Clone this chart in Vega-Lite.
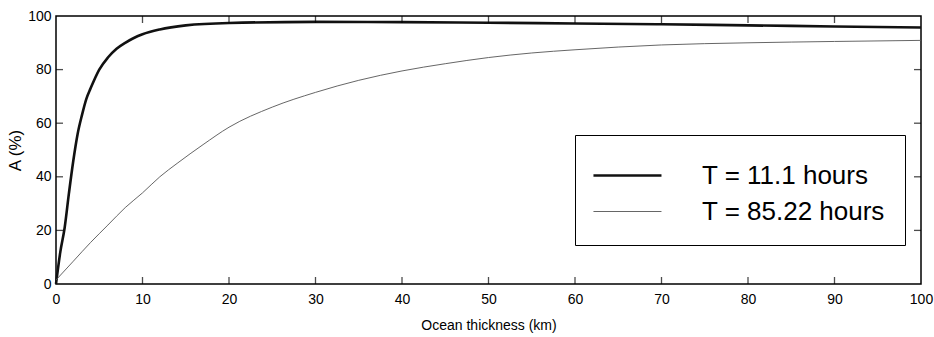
{
  "$schema": "https://vega.github.io/schema/vega-lite/v6.json",
  "width": 865,
  "height": 268,
  "autosize": {"type": "none"},
  "padding": {"left": 56, "top": 16, "right": 13, "bottom": 53},
  "background": "white",
  "config": {
    "view": {"stroke": "black", "strokeWidth": 1.5},
    "axis": {
      "domain": false,
      "ticks": false,
      "grid": false,
      "labelFlush": false,
      "labelColor": "black",
      "labelFont": "Liberation Sans",
      "labelFontSize": 14,
      "titleColor": "black",
      "titleFont": "Liberation Sans",
      "titleFontSize": 14,
      "titleFontWeight": "normal"
    }
  },
  "datasets": {
    "curves": [
      {"x": 0, "A": 0, "series": "T = 11.1 hours"},
      {"x": 0.5, "A": 12, "series": "T = 11.1 hours"},
      {"x": 1, "A": 21, "series": "T = 11.1 hours"},
      {"x": 1.5, "A": 34, "series": "T = 11.1 hours"},
      {"x": 2, "A": 46, "series": "T = 11.1 hours"},
      {"x": 2.5, "A": 56, "series": "T = 11.1 hours"},
      {"x": 3, "A": 63, "series": "T = 11.1 hours"},
      {"x": 3.5, "A": 69, "series": "T = 11.1 hours"},
      {"x": 4, "A": 73, "series": "T = 11.1 hours"},
      {"x": 5, "A": 80, "series": "T = 11.1 hours"},
      {"x": 6, "A": 84.5, "series": "T = 11.1 hours"},
      {"x": 7, "A": 87.8, "series": "T = 11.1 hours"},
      {"x": 8, "A": 90, "series": "T = 11.1 hours"},
      {"x": 9, "A": 91.8, "series": "T = 11.1 hours"},
      {"x": 10, "A": 93.2, "series": "T = 11.1 hours"},
      {"x": 12, "A": 95, "series": "T = 11.1 hours"},
      {"x": 15, "A": 96.5, "series": "T = 11.1 hours"},
      {"x": 20, "A": 97.4, "series": "T = 11.1 hours"},
      {"x": 30, "A": 97.8, "series": "T = 11.1 hours"},
      {"x": 40, "A": 97.7, "series": "T = 11.1 hours"},
      {"x": 50, "A": 97.5, "series": "T = 11.1 hours"},
      {"x": 60, "A": 97.2, "series": "T = 11.1 hours"},
      {"x": 70, "A": 96.9, "series": "T = 11.1 hours"},
      {"x": 80, "A": 96.5, "series": "T = 11.1 hours"},
      {"x": 90, "A": 96.1, "series": "T = 11.1 hours"},
      {"x": 100, "A": 95.7, "series": "T = 11.1 hours"},
      {"x": 0, "A": 1.5, "series": "T = 85.22 hours"},
      {"x": 2, "A": 8.5, "series": "T = 85.22 hours"},
      {"x": 4, "A": 15.5, "series": "T = 85.22 hours"},
      {"x": 6, "A": 22, "series": "T = 85.22 hours"},
      {"x": 8, "A": 28.5, "series": "T = 85.22 hours"},
      {"x": 10, "A": 34, "series": "T = 85.22 hours"},
      {"x": 12, "A": 40, "series": "T = 85.22 hours"},
      {"x": 14, "A": 45, "series": "T = 85.22 hours"},
      {"x": 17, "A": 52, "series": "T = 85.22 hours"},
      {"x": 20, "A": 58.5, "series": "T = 85.22 hours"},
      {"x": 25, "A": 66, "series": "T = 85.22 hours"},
      {"x": 30, "A": 71.5, "series": "T = 85.22 hours"},
      {"x": 35, "A": 76, "series": "T = 85.22 hours"},
      {"x": 40, "A": 79.5, "series": "T = 85.22 hours"},
      {"x": 45, "A": 82.2, "series": "T = 85.22 hours"},
      {"x": 50, "A": 84.5, "series": "T = 85.22 hours"},
      {"x": 55, "A": 86.2, "series": "T = 85.22 hours"},
      {"x": 60, "A": 87.4, "series": "T = 85.22 hours"},
      {"x": 70, "A": 89.2, "series": "T = 85.22 hours"},
      {"x": 80, "A": 90, "series": "T = 85.22 hours"},
      {"x": 90, "A": 90.5, "series": "T = 85.22 hours"},
      {"x": 100, "A": 90.9, "series": "T = 85.22 hours"}
    ],
    "xticks": [{"v": 10}, {"v": 20}, {"v": 30}, {"v": 40}, {"v": 50}, {"v": 60}, {"v": 70}, {"v": 80}, {"v": 90}],
    "yticks": [{"v": 20}, {"v": 40}, {"v": 60}, {"v": 80}]
  },
  "layer": [
    {
      "data": {"name": "curves"},
      "mark": {"type": "line", "interpolate": "monotone"},
      "encoding": {
        "x": {"field": "x", "type": "quantitative", "scale": {"domain": [0, 100], "nice": false},
              "axis": {"title": "Ocean thickness (km)", "values": [0,10,20,30,40,50,60,70,80,90,100], "labelPadding": 8, "titlePadding": 12}},
        "y": {"field": "A", "type": "quantitative", "scale": {"domain": [0, 100], "nice": false},
              "axis": {"title": "A (%)", "titleFontSize": 17, "values": [0,20,40,60,80,100], "labelPadding": 5, "titlePadding": 3}},
        "color": {"field": "series", "type": "nominal",
                  "scale": {"domain": ["T = 11.1 hours", "T = 85.22 hours"], "range": ["#111111", "#555555"]},
                  "legend": {
                    "title": null, "orient": "none", "legendX": 519, "legendY": 119,
                    "strokeColor": "black", "fillColor": "white", "padding": 20,
                    "symbolType": "M-1.16,0H2.42", "symbolSize": 1444,
                    "labelFont": "Liberation Sans", "labelFontSize": 26, "labelColor": "black",
                    "labelLimit": 400, "labelOffset": 66, "rowPadding": 3
                  }},
        "strokeWidth": {"field": "series", "type": "nominal",
                  "scale": {"domain": ["T = 11.1 hours", "T = 85.22 hours"], "range": [2.6, 0.9]},
                  "legend": {
                    "title": null, "orient": "none", "legendX": 519, "legendY": 119,
                    "strokeColor": "black", "fillColor": "white", "padding": 20,
                    "symbolType": "M-1.16,0H2.42", "symbolSize": 1444,
                    "labelFont": "Liberation Sans", "labelFontSize": 26, "labelColor": "black",
                    "labelLimit": 400, "labelOffset": 66, "rowPadding": 3
                  }}
      }
    },
    {
      "data": {"name": "xticks"},
      "mark": {"type": "tick", "orient": "vertical", "color": "black", "size": 7, "thickness": 1.3, "yOffset": -3.5},
      "encoding": {
        "x": {"field": "v", "type": "quantitative"},
        "y": {"datum": 0, "type": "quantitative"}
      }
    },
    {
      "data": {"name": "xticks"},
      "mark": {"type": "tick", "orient": "vertical", "color": "black", "size": 7, "thickness": 1.3, "yOffset": 3.5},
      "encoding": {
        "x": {"field": "v", "type": "quantitative"},
        "y": {"datum": 100, "type": "quantitative"}
      }
    },
    {
      "data": {"name": "yticks"},
      "mark": {"type": "tick", "orient": "horizontal", "color": "black", "size": 7, "thickness": 1.3, "xOffset": 3.5},
      "encoding": {
        "y": {"field": "v", "type": "quantitative"},
        "x": {"datum": 0, "type": "quantitative"}
      }
    },
    {
      "data": {"name": "yticks"},
      "mark": {"type": "tick", "orient": "horizontal", "color": "black", "size": 7, "thickness": 1.3, "xOffset": -3.5},
      "encoding": {
        "y": {"field": "v", "type": "quantitative"},
        "x": {"datum": 100, "type": "quantitative"}
      }
    }
  ]
}
